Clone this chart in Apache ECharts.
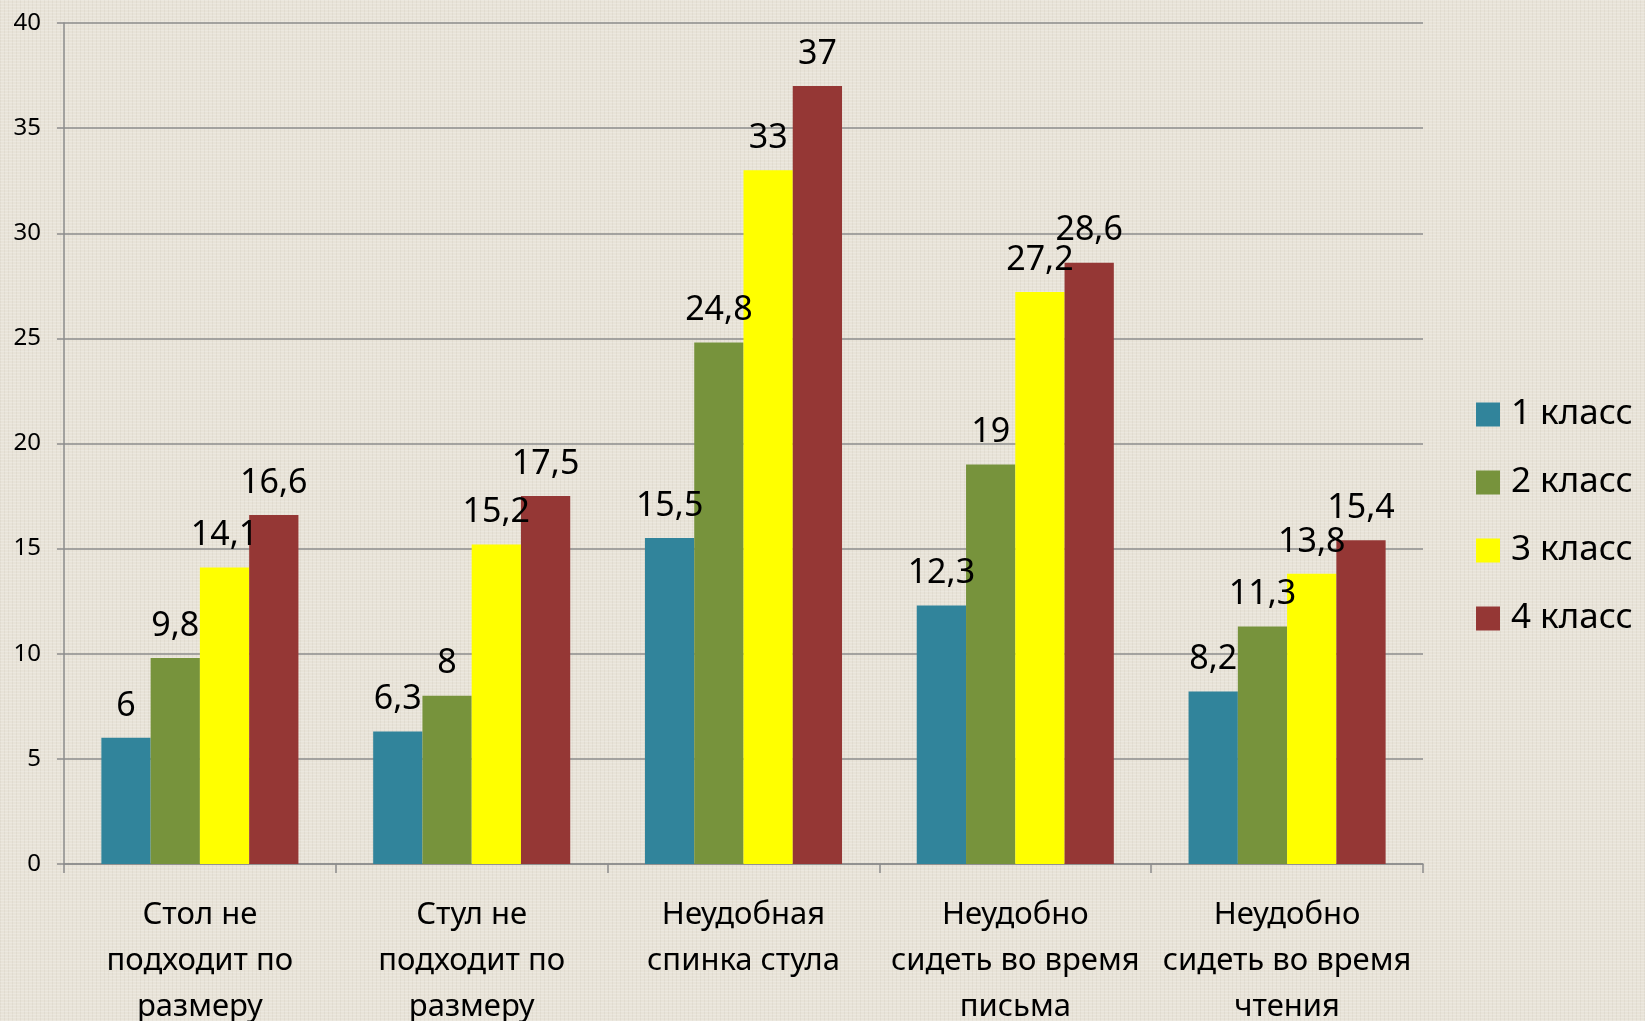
<!DOCTYPE html>
<html>
<head>
<meta charset="utf-8">
<script src="https://cdn.jsdelivr.net/npm/echarts@6/dist/echarts.min.js"></script>
<style>
html,body{margin:0;padding:0;width:1645px;height:1021px;overflow:hidden;
background-color:#e8e3d8;
background-image:
 repeating-linear-gradient(0deg, rgba(255,255,255,0.18) 0px, rgba(255,255,255,0.18) 1px, transparent 1px, transparent 3px),
 repeating-linear-gradient(90deg, rgba(160,150,130,0.10) 0px, rgba(160,150,130,0.10) 1px, transparent 1px, transparent 4px);
}
#chart{width:1645px;height:1021px;}
</style>
</head>
<body>
<div id="chart"></div>
<script>
const categories = [
  "Стол не\nподходит по\nразмеру",
  "Стул не\nподходит по\nразмеру",
  "Неудобная\nспинка стула",
  "Неудобно\nсидеть во время\nписьма",
  "Неудобно\nсидеть во время\nчтения"
];
const seriesNames = ["1 класс", "2 класс", "3 класс", "4 класс"];
const class1 = [6, 6.3, 15.5, 12.3, 8.2];
const class2 = [9.8, 8, 24.8, 19, 11.3];
const class3 = [14.1, 15.2, 33, 27.2, 13.8];
const class4 = [16.6, 17.5, 37, 28.6, 15.4];
const colors = ["#31849b", "#77933c", "#ffff00", "#953735"];
const yTicks = { min: 0, max: 40, interval: 5 };

const font = "'Noto Sans', sans-serif";
const chart = echarts.init(document.getElementById('chart'), null, {renderer: 'canvas'});
const dataSets = [class1, class2, class3, class4];
chart.setOption({
  backgroundColor: 'transparent',
  animation: false,
  color: colors,
  grid: { left: 64, top: 23, right: 222, bottom: 157, containLabel: false, outerBoundsMode: 'none' },
  legend: {
    orient: 'vertical',
    left: 1471,
    top: 392,
    itemWidth: 24,
    itemHeight: 24,
    itemGap: 33,
    icon: 'rect',
    textStyle: { fontFamily: font, fontSize: 35, color: '#000', padding: [0,0,0,6] },
    data: seriesNames
  },
  xAxis: {
    type: 'category',
    data: categories,
    axisLine: { lineStyle: { color: '#8c8c8c', width: 1.5 } },
    axisTick: { show: true, length: 9, lineStyle: { color: '#8c8c8c', width: 1.5 } },
    axisLabel: { fontFamily: font, fontSize: 31, color: '#000', lineHeight: 46, margin: 28, interval: 0 }
  },
  yAxis: {
    type: 'value',
    min: yTicks.min, max: yTicks.max, interval: yTicks.interval,
    axisLine: { show: true, lineStyle: { color: '#8c8c8c', width: 1.5 } },
    axisTick: { show: true, length: 7, lineStyle: { color: '#8c8c8c', width: 1.5 } },
    splitLine: { lineStyle: { color: '#8c8c8c', width: 1.5 } },
    axisLabel: { fontFamily: font, fontSize: 24, color: '#000', margin: 23 }
  },
  series: dataSets.map((d, i) => ({
    name: seriesNames[i],
    type: 'bar',
    data: d,
    barGap: '0%',
    barCategoryGap: '27.5%',
    itemStyle: { color: colors[i] },
    label: {
      show: true,
      position: 'top',
      distance: 15,
      fontFamily: font,
      fontSize: 34,
      color: '#000',
      formatter: p => String(p.value).replace('.', ',')
    }
  }))
});
</script>
</body>
</html>
